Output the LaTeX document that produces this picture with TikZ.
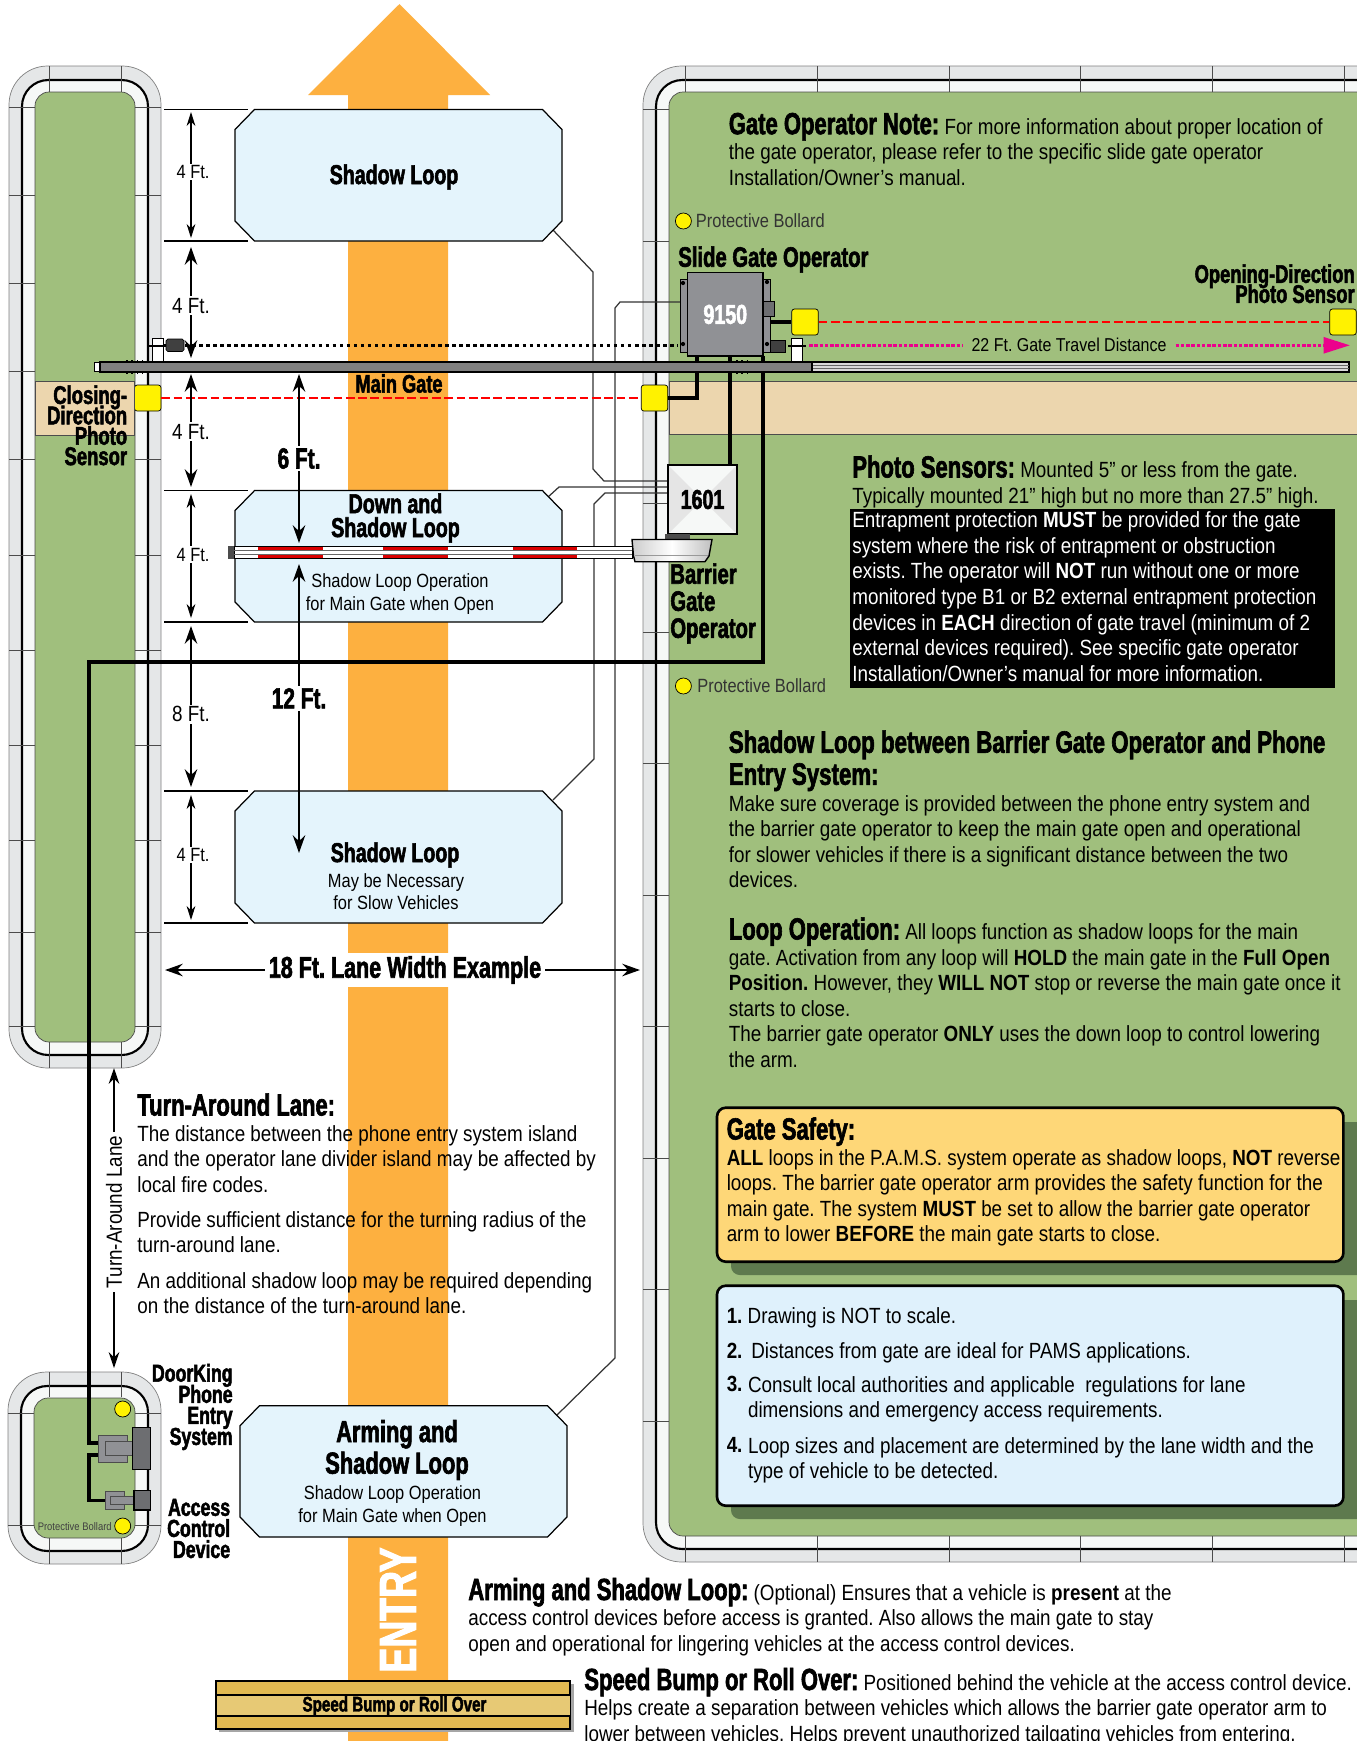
\documentclass[tikz,border=0pt]{standalone}
\usepackage{fontspec}
\setmainfont[FakeStretch=0.858]{Liberation Sans}
\newfontfamily\heavy{Liberation Sans Bold}[FakeStretch=0.72,FakeBold=2]
\usetikzlibrary{arrows.meta}
\AtBeginDocument{\frenchspacing\normallineskiplimit=-100pt\lineskiplimit=-100pt}
\definecolor{lanecol}{HTML}{FDB040}
\definecolor{grasscol}{HTML}{A0BF7D}
\definecolor{ringout}{HTML}{E5E7E8}
\definecolor{ringin}{HTML}{F6F8F7}
\definecolor{loopcol}{HTML}{E4F4FC}
\definecolor{tancol}{HTML}{ECD6AE}
\definecolor{sensorcol}{HTML}{FFF200}
\definecolor{pinkcol}{HTML}{EC008C}
\definecolor{opcol}{HTML}{909195}
\definecolor{darkbox}{HTML}{6D6E71}
\definecolor{shadowcol}{HTML}{5E7A4E}
\definecolor{safetycol}{HTML}{FED778}
\definecolor{notecol}{HTML}{DFF1FC}
\definecolor{bumpcol}{HTML}{E2BA52}
\definecolor{bumpmid}{HTML}{E7C975}
\newcommand{\hdfont}{\heavy\fontsize{15.5}{17}\selectfont}
\newcommand{\hd}[1]{{\heavy\fontsize{17.4}{17}\selectfont #1}}
\newcommand{\islandat}[4]{%
  \draw[draw=gray,fill=ringout,rounded corners=22pt] (#1,#2) rectangle (#3,#4);
  \draw[line width=1.2pt,fill=ringin,rounded corners=15pt] (#1+13,#2+14) rectangle (#3-13,#4-13);
  \draw[draw=black!70,fill=grasscol,rounded corners=8pt] (#1+26,#2+26) rectangle (#3-26,#4-26);}
\newcommand{\loopat}[4]{%
  \draw[line width=0.7pt,fill=loopcol] (#1+19.5,#2) -- (#3-19.5,#2) -- (#3,#2+20) -- (#3,#4-20) -- (#3-19.5,#4) -- (#1+19.5,#4) -- (#1,#4-20) -- (#1,#2+20) -- cycle;}
\tikzset{
  para/.style={anchor=north west,inner sep=0pt,align=left,font=\fontsize{12.5}{14.55}\selectfont},
  hdnode/.style={inner sep=0pt,align=center,font=\hdfont},
  sublbl/.style={inner sep=0pt,align=center,font=\fontsize{10.9}{12.6}\selectfont},
  wire/.style={line width=1.8pt},
  loopwire/.style={line width=0.7pt,draw=black!80},
  tickline/.style={line width=0.5pt,draw=black!70},
  beam/.style={draw=red,line width=1.1pt,dash pattern=on 5pt off 2pt},
  pinkdot/.style={draw=pinkcol,line width=1.7pt,dash pattern=on 2pt off 1pt},
  blackdot/.style={line width=1.5pt,dash pattern=on 2pt off 2pt},
  sensor/.style={draw,fill=sensorcol,rounded corners=1.5pt,minimum width=5.3mm,minimum height=5.2mm,inner sep=0pt},
  bollard/.style={circle,draw,fill=sensorcol,minimum size=3.2mm,inner sep=0pt},
  dimthin/.style={line width=0.6pt,{Stealth[length=8pt,width=5pt]}-{Stealth[length=8pt,width=5pt]}},
  dimbold/.style={line width=1.5pt,{Stealth[length=10pt,width=7pt]}-{Stealth[length=10pt,width=7pt]}},
  dimlbl/.style={fill=white,inner sep=1pt,font=\fontsize{10.9}{14}\selectfont},
  dimlblb/.style={fill=white,inner sep=1pt,font=\fontsize{12.5}{14}\selectfont},
  bigdim/.style={fill=white,inner sep=1.5pt,font=\heavy\fontsize{16.5}{19}\selectfont},
  notebox/.style={line width=1.5pt,rounded corners=5pt}
}
\begin{document}
\begin{tikzpicture}[x=0.2mm,y=-0.2mm]
  \useasboundingbox (0,0) rectangle (1357,1741);
  \fill[white] (0,0) rectangle (1357,1741);
  % lane
  \fill[lanecol] (399.5,4) -- (490,95) -- (448,95) -- (448,1741) -- (348,1741) -- (348,95) -- (308,95) -- cycle;
  \fill[white] (345,953) rectangle (451,987);
  % islands
  \islandat{9}{66}{161}{1068}
  \foreach \yy in {107,195,283,371,459,555,650,745,840,932,1026} {
    \draw[tickline] (9,\yy) -- (35,\yy); \draw[tickline] (135,\yy) -- (161,\yy); }
  \foreach \xx in {49.5,121} {
    \draw[tickline] (\xx,66) -- (\xx,92); \draw[tickline] (\xx,1042) -- (\xx,1068); }
  \islandat{643}{66}{1420}{1562}
  \foreach \yy in {109,241,372,503,632,763,895,1026,1158,1289,1421} { \draw[tickline] (643,\yy) -- (669,\yy); }
  \foreach \xx in {685,817,949,1080,1212,1344} {
    \draw[tickline] (\xx,66) -- (\xx,92); \draw[tickline] (\xx,1536) -- (\xx,1562); }
  \islandat{8}{1372}{161}{1564}
  \foreach \yy in {1413,1525} { \draw[tickline] (8,\yy) -- (34,\yy); \draw[tickline] (135,\yy) -- (161,\yy); }
  \foreach \xx in {49,121} { \draw[tickline] (\xx,1372) -- (\xx,1397); \draw[tickline] (\xx,1538) -- (\xx,1564); }
  \draw[draw=black!70,fill=tancol] (669,381) rectangle (1420,434);
  % loop wires
  \coordinate (wa1) at (553,230); \coordinate (wa2) at (593,272); \coordinate (wa3) at (593,469); \coordinate (wa4) at (604,481);
  \coordinate (wb1) at (680,302); \coordinate (wb2) at (620,302); \coordinate (wb3) at (615,308); \coordinate (wb4) at (615,1358); \coordinate (wb5) at (557,1415);
  \coordinate (wc1) at (548,497); \coordinate (wc2) at (559,487);
  \coordinate (wd1) at (605,493); \coordinate (wd2) at (594,504); \coordinate (wd3) at (594,759); \coordinate (wd4) at (553,800);
  \coordinate (wa5) at (668,481); \coordinate (wc3) at (668,487); \coordinate (wd0) at (668,493);
  \draw[loopwire] (wa1) -- (wa2) -- (wa3) -- (wa4) -- (wa5);
  \draw[loopwire] (wb1) -- (wb2) -- (wb3) -- (wb4) -- (wb5);
  \draw[loopwire] (wc1) -- (wc2) -- (wc3);
  \draw[loopwire] (wd0) -- (wd1) -- (wd2) -- (wd3) -- (wd4);
  % loops
  \loopat{235}{109.5}{562}{241}
  \loopat{235}{490.6}{562}{622}
  \loopat{235}{791}{562}{923}
  \loopat{240}{1405.7}{567}{1537}
  \foreach \yy in {109.5,241,490.6,622,791,923} { \draw[line width=0.6pt] (164,\yy) -- (248,\yy); }
  % operators
  \draw[fill=opcol] (680,279) rectangle (770,352.7);
  \draw[fill=darkbox] (763,301.7) rectangle (774,316);
  \foreach \xx/\yy in {683/283,683/344,767/282,767/344} { \fill (\xx,\yy) circle (1.2pt); }
  \node[draw,line width=0.8pt,fill=opcol,minimum width=15.1mm,minimum height=16.7mm,inner sep=0pt,text=white,font=\hdfont,
    path picture={\fill[black!30!opcol!80!white] (path picture bounding box.north west) -- (path picture bounding box.north east) -- +(-1mm,1mm) -| ([shift={(1mm,1mm)}]path picture bounding box.north west) -- cycle;
      \fill[black!45!opcol] (path picture bounding box.south west) -- (path picture bounding box.south east) -- +(-1mm,-1mm) -| ([shift={(1mm,-1mm)}]path picture bounding box.south west) -- cycle;}] (op9150) at (725.3,314.4) {9150};
  \node[draw,line width=1pt,fill=ringin,minimum width=13.8mm,minimum height=13.8mm,inner sep=0pt,font=\hdfont,
    path picture={\fill[black!10] (path picture bounding box.north west) -- (path picture bounding box.center) -- (path picture bounding box.south west) -- cycle;
      \fill[black!10] (path picture bounding box.north east) -- (path picture bounding box.center) -- (path picture bounding box.south east) -- cycle;}] (ctl1601) at (702.5,499.5) {1601};
  \fill[black!70] (665,534) rectangle (690,539.5);
  % sensors
  \node[sensor] (sensL) at (147.75,398) {}; \node[sensor] (sensG) at (654.5,398) {};
  \node[sensor] (sensN) at (805,322) {}; \node[sensor] (sensF) at (1343,322) {};
  \draw[beam] (sensL) -- (sensG); \draw[beam] (sensN) -- (sensF);
  % thick wires
  \coordinate (w1a) at (697,356); \coordinate (w2a) at (730,356); \coordinate (w3a) at (763,356);
  \coordinate (w3b) at (763,662); \coordinate (w3c) at (89,662); \coordinate (w3d) at (89,1443); \coordinate (w3e) at (98,1443);
  \coordinate (w4a) at (98,1455); \coordinate (w4b) at (89,1455); \coordinate (w4c) at (89,1500.7); \coordinate (w4d) at (105,1500.7);
  \draw[wire] (w1a) |- (sensG); \draw[wire] (w2a) -- (w2a |- ctl1601.north);
  \draw[wire] (w3a) -- (w3b) -- (w3c) -- (w3d) -- (w3e); \draw[wire] (w4a) -- (w4b) -- (w4c) -- (w4d);
  \draw[wire] (770,322) -- (sensN);
  % gate travel
  \coordinate (dotA) at (157,345.6); \coordinate (dotB) at (678,345.6);
  \draw[blackdot] (dotA) -- (dotB);
  \draw[fill=white,line width=0.4pt] (152,338) rectangle (163,362);
  \draw[line width=1.2pt] (148,345.6) -- (166,345.6);
  \draw[fill=black!75,rounded corners=1pt] (166,339) rectangle (184,351.5);
  \draw[fill=black!75] (770,340) rectangle (785.5,352);
  \draw[fill=white,line width=0.4pt] (791,338) rectangle (802,362);
  \draw[line width=1.2pt] (788,345.6) -- (806,345.6);
  \node[inner sep=5pt,font=\fontsize{10.6}{14}\selectfont] (travelLbl) at (1069,345.3) {22 Ft. Gate Travel Distance};
  \coordinate (pinkA) at (809,345.3); \coordinate (pinkB) at (1350,345.3);
  \draw[pinkdot] (pinkA) -- (travelLbl);
  \draw[pinkdot,-{Triangle[length=15pt,width=9pt]}] (travelLbl) -- (pinkB);
  % main gate
  \draw[dotted,line width=1pt] (126,361) -- (143,361); \draw[dotted,line width=1pt] (126,373) -- (143,373);
  \draw[dotted,line width=1pt] (736,361) -- (750,361); \draw[dotted,line width=1pt] (736,373) -- (750,373);
  \draw[fill=white,line width=0.4pt] (94.5,362.5) rectangle (100,371.5);
  \draw[fill=black!15,line width=0.6pt] (812,362) rectangle (1349,372);
  \draw[draw=black!60,line width=0.5pt] (812,365.5) -- (1349,365.5); \draw[draw=black!60,line width=0.5pt] (812,368.5) -- (1349,368.5);
  \draw[fill=black!50,line width=0.7pt] (100,362) rectangle (812,372);
  % barrier arm
  \draw[fill=white,line width=0.5pt] (234,546) rectangle (632,558.7);
  \draw[draw=black!60,line width=0.4pt] (234,550.3) -- (632,550.3); \draw[draw=black!60,line width=0.4pt] (234,554.7) -- (632,554.7);
  \foreach \xa/\xb in {258/322.6,383/447.5,512.6/576.8} {
    \fill[red!85!black] (\xa,546.5) rectangle (\xb,550); \fill[red!85!black] (\xa,555) rectangle (\xb,558.4); }
  \fill[black!70] (228,545.7) rectangle (234,558.9);
  \draw[left color=black!20,right color=black!25,middle color=white,line width=0.8pt] (632,539.5) -- (712,539.5) -- (709,556) -- (705,561.7) -- (635,561.7) -- (633.5,556) -- cycle;
  \draw[draw=black!40,line width=0.3pt] (635,555.7) -- (708,555.7);
  % dimensions
  \foreach \ya/\yb/\pp [count=\i] in {112/238/0.476,494/618/0.49,795/920/0.48} {
    \coordinate (dimT\i) at (191,\ya); \coordinate (dimB\i) at (191,\yb);
    \draw[dimthin] (dimT\i) -- (dimB\i) node[dimlbl,pos=\pp,xshift=0.4mm] (dimL\i) {4 Ft.}; }
  \coordinate (dimT4) at (191,247); \coordinate (dimB4) at (191,358);
  \draw[dimbold] (dimT4) -- (dimB4) node[dimlblb,pos=0.53] (dimL4) {4 Ft.};
  \coordinate (dimT5) at (191,374); \coordinate (dimB5) at (191,487);
  \draw[dimbold] (dimT5) -- (dimB5) node[dimlblb,pos=0.51] (dimL5) {4 Ft.};
  \coordinate (dimT6) at (191,626); \coordinate (dimB6) at (191,787);
  \draw[dimbold] (dimT6) -- (dimB6) node[dimlblb,pos=0.547] (dimL6) {8 Ft.};
  \coordinate (sixT) at (299,374); \coordinate (sixB) at (299,543);
  \draw[dimbold] (sixT) -- (sixB) node[bigdim,pos=0.5] (sixL) {6 Ft.};
  \coordinate (twelveT) at (299,564); \coordinate (twelveB) at (299,853);
  \draw[dimbold] (twelveT) -- (twelveB) node[bigdim,pos=0.465] (twelveL) {12 Ft.};
  \node[inner sep=2pt,font=\heavy\fontsize{17}{18}\selectfont] (laneLbl) at (405,970) {18 Ft. Lane Width Example};
  \coordinate (laneA) at (165,970); \coordinate (laneB) at (640,970);
  \draw[line width=1.5pt,-{Stealth[length=10pt,width=7pt]}] (laneLbl) -- (laneA);
  \draw[line width=1.5pt,-{Stealth[length=10pt,width=7pt]}] (laneLbl) -- (laneB);
  \node[rotate=90,inner sep=2pt,font=\fontsize{12.5}{14}\selectfont] (turnLbl) at (114,1212) {Turn-Around Lane};
  \coordinate (turnA) at (114,1068); \coordinate (turnB) at (114,1368);
  \draw[line width=0.9pt,-{Stealth[length=9pt,width=6pt]}] (turnLbl) -- (turnA);
  \draw[line width=0.9pt,-{Stealth[length=9pt,width=6pt]}] (turnLbl) -- (turnB);
  % entry devices
  \draw[fill=opcol,draw=black!70] (98,1435) rectangle (127,1462);
  \draw[fill=opcol,draw=black!70] (105.7,1441.7) rectangle (133,1455.7);
  \draw[fill=darkbox,line width=0.6pt] (132.7,1427.7) rectangle (150.7,1469.3);
  \draw[fill=opcol,draw=black!70] (105,1491) rectangle (124,1509);
  \draw[fill=opcol,draw=black!70] (110.7,1496.7) rectangle (134,1504);
  \draw[fill=darkbox,line width=0.6pt] (134,1490.7) rectangle (150.7,1510);
  \node[bollard] (bolA) at (122.7,1409) {}; \node[bollard] (bolB) at (122.7,1526) {};
  \node[bollard] (bolC) at (683.4,221) {}; \node[bollard] (bolD) at (683.4,686) {};
  \node[anchor=east,inner sep=0pt,font=\fontsize{6.25}{8}\selectfont,text=black!75] (bolAt) at (112,1527) {Protective Bollard};
  \node[anchor=west,inner sep=0pt,font=\fontsize{10.9}{12}\selectfont,text=black!80] (bolCt) at (695.6,221) {Protective Bollard};
  \node[anchor=west,inner sep=0pt,font=\fontsize{10.9}{12}\selectfont,text=black!80] (bolDt) at (697,686) {Protective Bollard};
  % speed bump
  \fill[black!35] (219,1684) rectangle (574,1732);
  \draw[line width=0.9pt,fill=bumpcol] (216,1681) rectangle (570,1729);
  \fill[bumpmid] (216.5,1695) rectangle (569.5,1716);
  \draw[line width=0.7pt] (216,1695) -- (570,1695); \draw[line width=0.7pt] (216,1716) -- (570,1716);
  \node[inner sep=0pt,font=\heavy\fontsize{12}{14}\selectfont] (bumpLbl) at (394.5,1706) {Speed Bump or Roll Over};
  \node[rotate=90,text=white,inner sep=0pt,font=\heavy\fontsize{29.5}{33}\selectfont] (entryLbl) at (398,1610) {ENTRY};
  % loop labels
  \node[hdnode] (lbTop) at (394,177) {Shadow Loop};
  \node[hdnode,font=\heavy\fontsize{15.5}{13.6}\selectfont] (lbDown) at (395.5,518) {Down and\\Shadow Loop};
  \node[sublbl] (lbDownC) at (400,594) {Shadow Loop Operation\\for Main Gate when Open};
  \node[hdnode] (lbSlowA) at (395,855) {Shadow Loop};
  \node[sublbl] (lbSlowB) at (396,892) {May be Necessary\\for Slow Vehicles};
  \node[hdnode,font=\heavy\fontsize{17.3}{18}\selectfont] (lbArm) at (397,1450) {Arming and\\Shadow Loop};
  \node[sublbl] (lbArmC) at (392.5,1506) {Shadow Loop Operation\\for Main Gate when Open};
  \node[hdnode,font=\heavy\fontsize{14.4}{15}\selectfont] (lbGate) at (399,383.5) {Main Gate};
  % device labels
  \draw[draw=black!70,fill=tancol] (35.5,381) rectangle (134.5,435);
  \node[anchor=north east,inner sep=0pt,align=right,font=\heavy\fontsize{14.6}{11.6}\selectfont] (lbClose) at (127.5,385) {Closing-\\Direction\\Photo\\Sensor};
  \node[para,font=\heavy\fontsize{16}{17}\selectfont] (lbSlide) at (678,246) {Slide Gate Operator};
  \node[anchor=north east,inner sep=0pt,align=right,font=\heavy\fontsize{14.5}{11.4}\selectfont] (lbOpen) at (1355,264) {Opening-Direction\\Photo Sensor};
  \node[para,font=\heavy\fontsize{16}{15.4}\selectfont] (lbBarrier) at (670,563) {Barrier\\Gate\\Operator};
  \node[anchor=north east,inner sep=0pt,align=right,font=\heavy\fontsize{14}{12}\selectfont] (lbDoor) at (233,1363.5) {DoorKing\\Phone\\Entry\\System};
  \node[anchor=north east,inner sep=0pt,align=right,font=\heavy\fontsize{14}{12}\selectfont] (lbAccess) at (230.5,1498.5) {Access\\Control\\Device};
  % text
  \node[para] (txNote) at (728.5,112.5) {\hd{Gate Operator Note:} For more information about proper location of\\the gate operator, please refer to the specific slide gate operator\\Installation/Owner’s manual.};
  \node[para] (txPhoto) at (852,455) {\hd{Photo Sensors:} Mounted 5” or less from the gate.\\Typically mounted 21” high but no more than 27.5” high.};
  \fill[black] (850,509) rectangle (1335,688);
  \node[para,text=white] (txTrap) at (852,511.5) {Entrapment protection \textbf{MUST} be provided for the gate\\system where the risk of entrapment or obstruction\\exists. The operator will \textbf{NOT} run without one or more\\monitored type B1 or B2 external entrapment protection\\devices in \textbf{EACH} direction of gate travel (minimum of 2\\external devices required). See specific gate operator\\Installation/Owner’s manual for more information.};
  \node[para,font=\heavy\fontsize{17.6}{18.2}\selectfont] (txBetween) at (728.5,730) {Shadow Loop between Barrier Gate Operator and Phone\\Entry System:};
  \node[para] (txBetweenB) at (728.5,795) {Make sure coverage is provided between the phone entry system and\\the barrier gate operator to keep the main gate open and operational\\for slower vehicles if there is a significant distance between the two\\devices.};
  \node[para] (txLoop) at (728.5,917) {\hd{Loop Operation:} All loops function as shadow loops for the main\\gate. Activation from any loop will \textbf{HOLD} the main gate in the \textbf{Full Open}\\\textbf{Position.} However, they \textbf{WILL NOT} stop or reverse the main gate once it\\starts to close.\\The barrier gate operator \textbf{ONLY} uses the down loop to control lowering\\the arm.};
  \node[para] (txTurn) at (137,1093) {\hd{Turn-Around Lane:}};
  \node[para] (txTurnA) at (137,1125) {The distance between the phone entry system island\\and the operator lane divider island may be affected by\\local fire codes.};
  \node[para] (txTurnB) at (137,1211) {Provide sufficient distance for the turning radius of the\\turn-around lane.};
  \node[para] (txTurnC) at (137,1272) {An additional shadow loop may be required depending\\on the distance of the turn-around lane.};
  \node[para] (txArm) at (468,1577.5) {\hd{Arming and Shadow Loop:} (Optional) Ensures that a vehicle is \textbf{present} at the\\access control devices before access is granted. Also allows the main gate to stay\\open and operational for lingering vehicles at the access control devices.};
  \node[para] (txBump) at (584,1667.5) {\hd{Speed Bump or Roll Over:} Positioned behind the vehicle at the access control device.\\Helps create a separation between vehicles which allows the barrier gate operator arm to\\lower between vehicles. Helps prevent unauthorized tailgating vehicles from entering.};
  % note boxes
  \fill[shadowcol,rounded corners=5pt] (731,1122) rectangle (1380,1275);
  \draw[notebox,fill=safetycol] (717,1107.7) rectangle (1343.4,1261.7);
  \node[para] (txSafety) at (726.4,1117) {\hd{Gate Safety:}\\\textbf{ALL} loops in the P.A.M.S. system operate as shadow loops, \textbf{NOT} reverse\\loops. The barrier gate operator arm provides the safety function for the\\main gate. The system \textbf{MUST} be set to allow the barrier gate operator\\arm to lower \textbf{BEFORE} the main gate starts to close.};
  \fill[shadowcol,rounded corners=5pt] (731,1300) rectangle (1380,1519);
  \draw[notebox,fill=notecol] (717,1285.7) rectangle (1343.4,1505.7);
  \node[para] (txN1) at (726.4,1307) {\textbf{1.} Drawing is NOT to scale.};
  \node[para] (txN2) at (726.4,1342) {\textbf{2.} \,Distances from gate are ideal for PAMS applications.};
  \node[para] (txN3) at (726.4,1376) {\textbf{3.}};
  \node[para] (txN3b) at (747.7,1376) {Consult local authorities and applicable\ \ regulations for lane\\dimensions and emergency access requirements.};
  \node[para] (txN4) at (726.4,1437) {\textbf{4.}};
  \node[para] (txN4b) at (747.7,1437) {Loop sizes and placement are determined by the lane width and the\\type of vehicle to be detected.};
\end{tikzpicture}
\end{document}
